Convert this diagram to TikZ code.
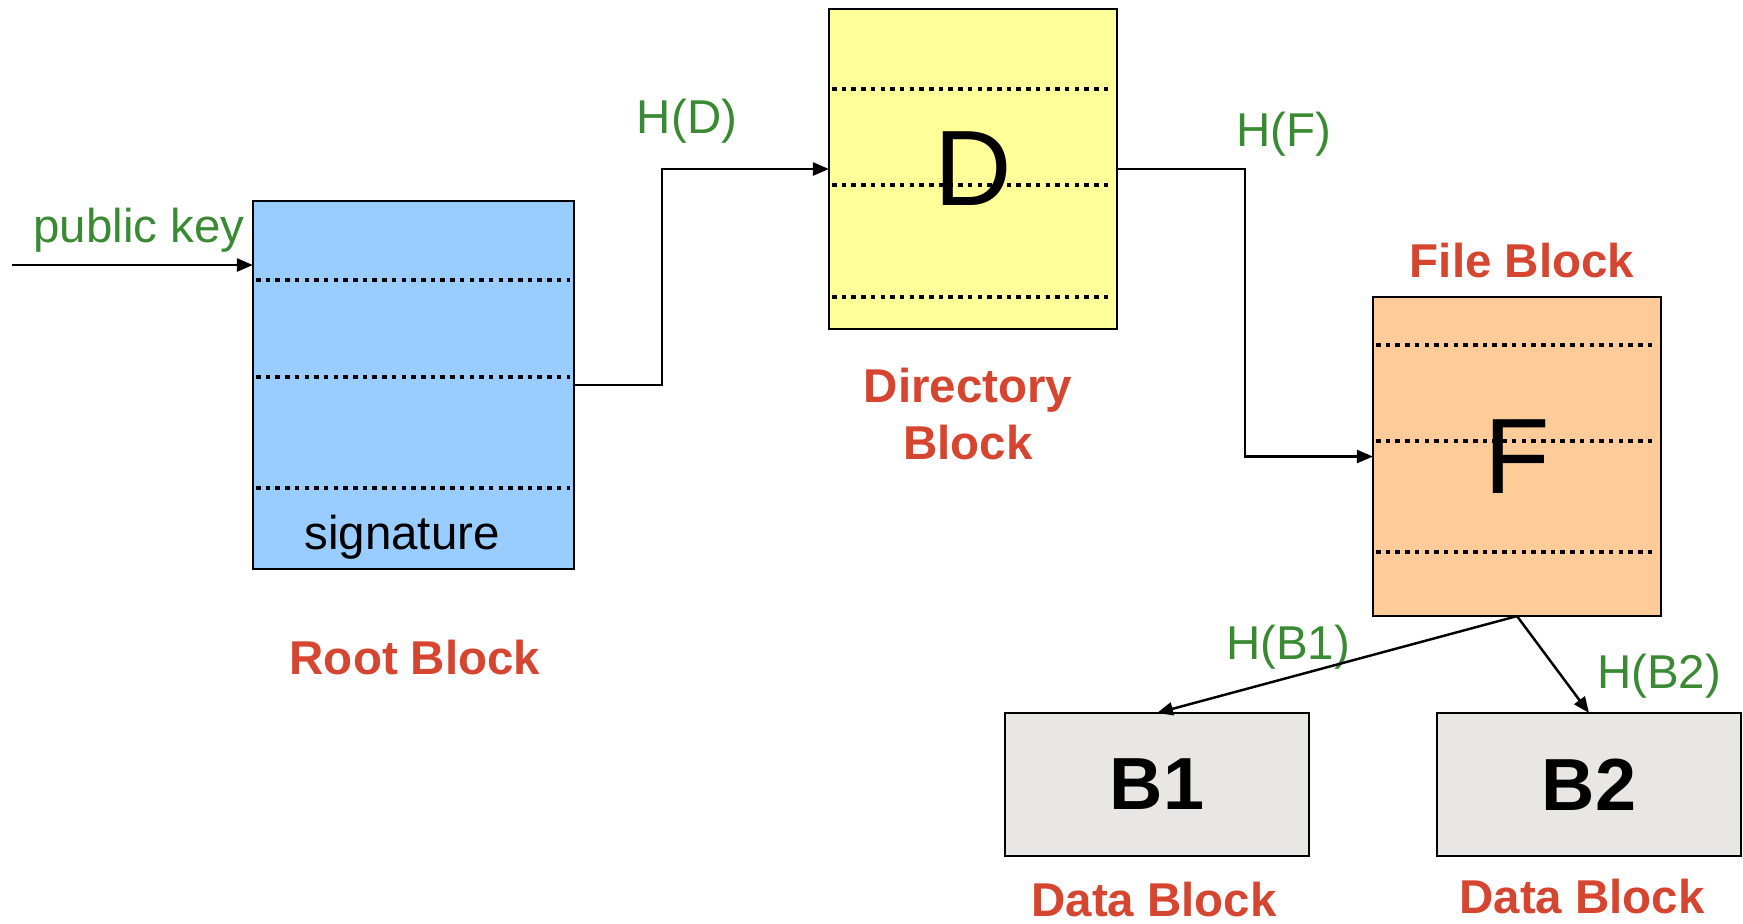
\documentclass[tikz,border=0pt]{standalone}
\usepackage{fontspec}
\setmainfont{Liberation Sans}
\usetikzlibrary{arrows.meta,positioning}
\definecolor{rootBlue}{HTML}{99CCFF}
\definecolor{dirYellow}{HTML}{FFFF99}
\definecolor{fileOrange}{HTML}{FFCC99}
\definecolor{dataGray}{HTML}{E8E7E3}
\definecolor{hashGreen}{HTML}{3A8A33}
\definecolor{nameRed}{HTML}{D6452F}
\tikzset{
  block/.style={rectangle,draw=black,line width=0.75pt,inner sep=0pt,outer sep=0pt},
  rootblock/.style={block,fill=rootBlue,minimum width=3.21cm,minimum height=3.68cm},
  dirblock/.style={block,fill=dirYellow,minimum width=2.88cm,minimum height=3.20cm},
  fileblock/.style={block,fill=fileOrange,minimum width=2.88cm,minimum height=3.19cm},
  datablock/.style={block,fill=dataGray,minimum width=3.04cm,minimum height=1.43cm,
    font=\bfseries\fontsize{21}{24}\selectfont},
  bigletter/.style={inner sep=0pt,font=\fontsize{30.5}{34}\selectfont},
  rowline/.style={line width=1.3pt,dash pattern=on 0.045cm off 0.052cm},
  fieldtext/.style={inner sep=0pt,font=\fontsize{13.5}{16.2}\selectfont},
  hashlabel/.style={inner sep=0pt,text=hashGreen,font=\fontsize{13.5}{16.2}\selectfont},
  blocklabel/.style={inner sep=0pt,text=nameRed,align=center,
    font=\bfseries\fontsize{13.5}{16.2}\selectfont},
  arrow/.style={-{Triangle[length=0.16cm,width=0.13cm]},line width=0.7pt}
}
\begin{document}
\begin{tikzpicture}[x=0.01cm,y=-0.01cm]
  \useasboundingbox (0,0) rectangle (1743,923);
  % blocks
  \node[rootblock] (root) at (413.5,385) {};
  \node[dirblock] (dir) at (973,169) {};
  \node[fileblock] (file) at (1517,456.5) {};
  \node[datablock] (b1) at (1157,784.5) {B1};
  \node[datablock] (b2) at (1589,784.5) {B2};
  % dotted field separators
  \foreach \y in {280,377,488} \draw[rowline] (256,\y) -- (570,\y);
  \foreach \y in {89,185,297} \draw[rowline] (832,\y) -- (1113,\y);
  \foreach \y in {345,441,552} \draw[rowline] (1376,\y) -- (1657,\y);
  \node[fieldtext] (sig) at (402,537) {signature};
  \node[bigletter] (dlet) at (dir) {D};
  \node[bigletter] (flet) at (file) {F};
  % block names
  \node[blocklabel] (rootname) at (415,658) {Root Block};
  \node[blocklabel] (dirname) at (968,414) {Directory\\Block};
  \node[blocklabel] (filename) at (1522,261) {File Block};
  \node[blocklabel] (b1name) at (1154,900) {Data Block};
  \node[blocklabel] (b2name) at (1582,897) {Data Block};
  % hash pointers
  \coordinate (pkin) at (12,265);
  \node[hashlabel] (pk) at (139,230) {public key};
  \node[hashlabel] (hd) at (687,121) {H(D)};
  \node[hashlabel] (hf) at (1284,134) {H(F)};
  \node[hashlabel] (hb1) at (1288,647) {H(B1)};
  \node[hashlabel] (hb2) at (1659,676) {H(B2)};
  \draw[arrow] (pkin) -- (pkin -| root.west);
  \draw[arrow] (root.east) -- ++(88,0) |- (dir.west);
  \draw[arrow] (dir.east) -- ++(128,0) |- (file.west);
  \draw[arrow] (file.south) -- (b1.north);
  \draw[arrow] (file.south) -- (b2.north);
\end{tikzpicture}
\end{document}
